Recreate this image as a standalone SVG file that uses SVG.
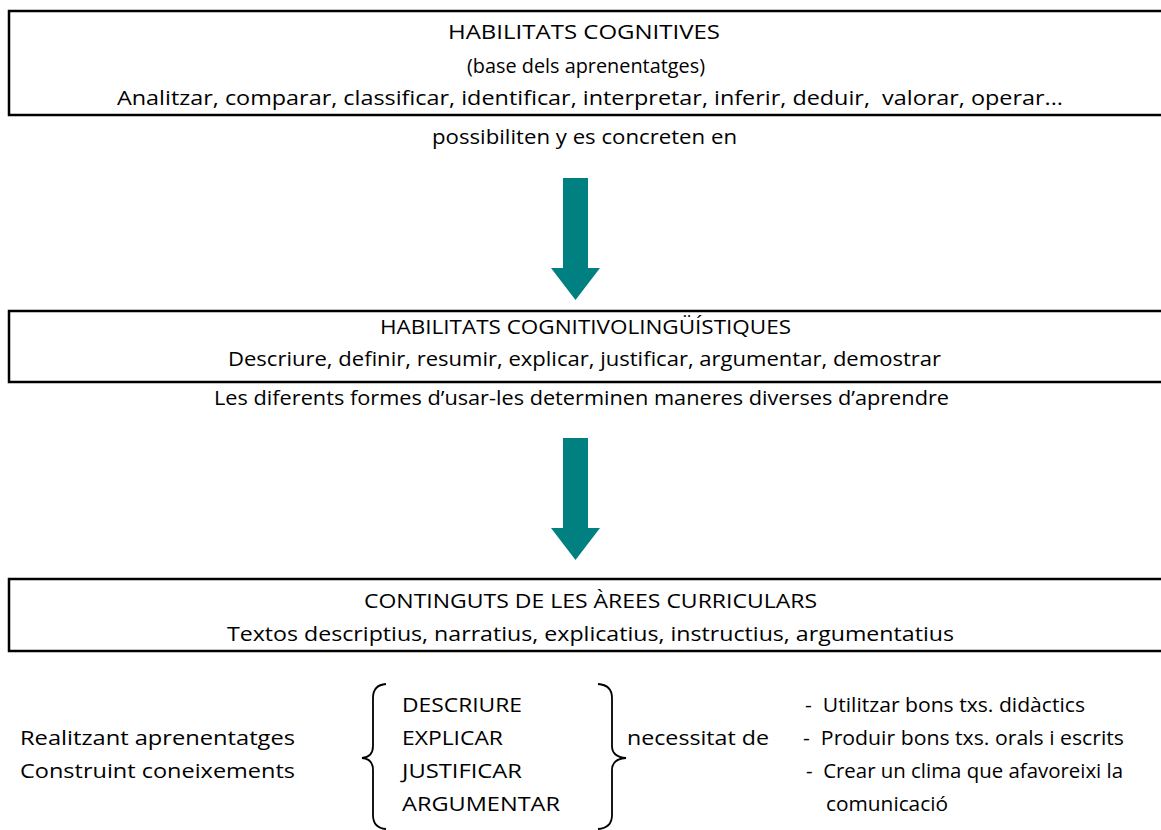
<svg xmlns="http://www.w3.org/2000/svg" width="1161" height="830" viewBox="0 0 1161 830">
<style>
.box{fill:#fff;stroke:#000;stroke-width:2.5}
.t{font-family:"Open Sans","Liberation Sans",sans-serif;font-size:20.5px;fill:#000}
.c{text-anchor:middle}
.arr{fill:#008080}
.brace{fill:none;stroke:#000;stroke-width:1.8}
</style>
<rect width="1161" height="830" fill="#fff"/>
<g id="node-cognitives">
<rect class="box" x="9" y="11" width="1165" height="104"/>
<text class="t c" x="584" y="39" textLength="272" lengthAdjust="spacingAndGlyphs">HABILITATS COGNITIVES</text>
<text class="t c" x="586" y="73" textLength="238" lengthAdjust="spacingAndGlyphs">(base dels aprenentatges)</text>
<text class="t" x="117" y="105" textLength="946" lengthAdjust="spacingAndGlyphs" xml:space="preserve">Analitzar, comparar, classificar, identificar, interpretar, inferir, deduir,  valorar, operar...</text>
</g>
<g id="label-possibiliten">
<text class="t" x="432" y="144" textLength="305" lengthAdjust="spacingAndGlyphs">possibiliten y es concreten en</text>
</g>
<g id="node-cognitivolinguistiques">
<rect class="box" x="9" y="311" width="1165" height="71"/>
<text class="t" x="380" y="334" textLength="411" lengthAdjust="spacingAndGlyphs">HABILITATS COGNITIVOLINGÜÍSTIQUES</text>
<text class="t" x="228" y="366" textLength="713" lengthAdjust="spacingAndGlyphs">Descriure, definir, resumir, explicar, justificar, argumentar, demostrar</text>
</g>
<g id="label-formes">
<text class="t" x="214" y="405" textLength="735" lengthAdjust="spacingAndGlyphs">Les diferents formes d’usar-les determinen maneres diverses d’aprendre</text>
</g>
<g id="node-continguts">
<rect class="box" x="9" y="579" width="1165" height="72"/>
<text class="t" x="364" y="608" textLength="453" lengthAdjust="spacingAndGlyphs">CONTINGUTS DE LES ÀREES CURRICULARS</text>
<text class="t" x="227" y="641" textLength="727" lengthAdjust="spacingAndGlyphs">Textos descriptius, narratius, explicatius, instructius, argumentatius</text>
</g>
<g id="connectors">
<polygon class="arr" points="563,178 588,178 588,268 600,268 575.5,300 551,268 563,268"/>
<polygon class="arr" points="563,438 588,438 588,528 600,528 575.5,560 551,528 563,528"/>
</g>
<g id="node-realitzant">
<text class="t" x="20" y="745" textLength="275" lengthAdjust="spacingAndGlyphs">Realitzant aprenentatges</text>
<text class="t" x="20" y="778" textLength="275" lengthAdjust="spacingAndGlyphs">Construint coneixements</text>
</g>
<g id="node-habilitats-list">
<path class="brace" d="M386,684 Q373,685 373,698 L373,746 Q373,757 362,758 Q373,759 373,770 L373,815 Q373,828 386,829"/>
<text class="t" x="402" y="712" textLength="120" lengthAdjust="spacingAndGlyphs">DESCRIURE</text>
<text class="t" x="402" y="745" textLength="101" lengthAdjust="spacingAndGlyphs">EXPLICAR</text>
<text class="t" x="402" y="778" textLength="120" lengthAdjust="spacingAndGlyphs">JUSTIFICAR</text>
<text class="t" x="402" y="811" textLength="158" lengthAdjust="spacingAndGlyphs">ARGUMENTAR</text>
<path class="brace" d="M598,684 Q612,685 612,698 L612,746 Q612,757 626,758 Q612,759 612,770 L612,815 Q612,828 598,829"/>
</g>
<g id="node-necessitat">
<text class="t" x="627" y="745" textLength="142" lengthAdjust="spacingAndGlyphs">necessitat de</text>
</g>
<g id="node-necessitats-list">
<text class="t" x="805" y="712" textLength="280" lengthAdjust="spacingAndGlyphs" xml:space="preserve">-  Utilitzar bons txs. didàctics</text>
<text class="t" x="803" y="745" textLength="321" lengthAdjust="spacingAndGlyphs" xml:space="preserve">-  Produir bons txs. orals i escrits</text>
<text class="t" x="806" y="778" textLength="317" lengthAdjust="spacingAndGlyphs" xml:space="preserve">-  Crear un clima que afavoreixi la</text>
<text class="t" x="826" y="811" textLength="122" lengthAdjust="spacingAndGlyphs">comunicació</text>
</g>
</svg>
